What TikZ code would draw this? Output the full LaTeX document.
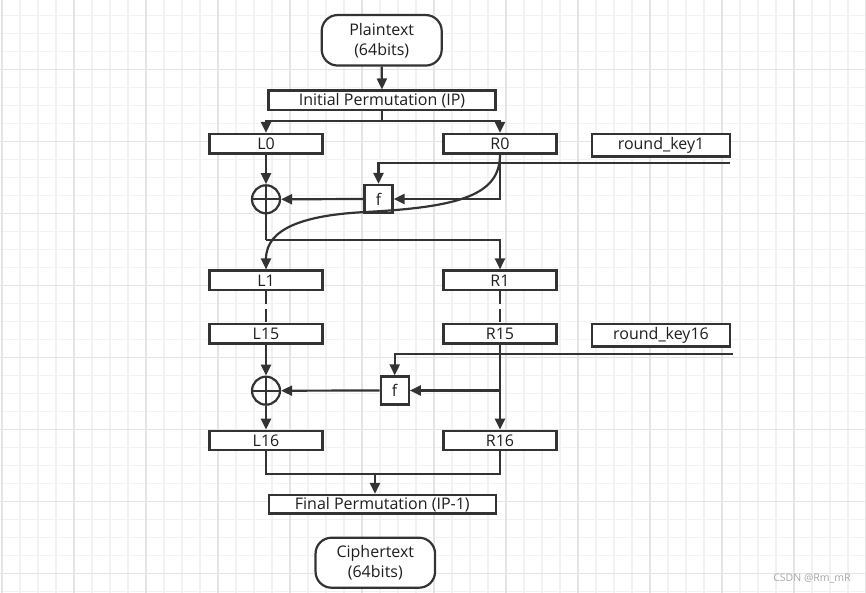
\documentclass[tikz,border=0pt]{standalone}
\usepackage{fontspec}
\setmainfont{Open Sans}
\usetikzlibrary{arrows.meta}
\definecolor{ink}{HTML}{333333}
\definecolor{txt}{HTML}{1E1E1E}
\definecolor{gminor}{HTML}{F2F2F2}
\definecolor{gmajor}{HTML}{E4E4E4}
\definecolor{wm}{HTML}{A6A6A6}
\tikzset{
  box/.style={draw=ink, line width=2.2pt, fill=white, inner sep=0pt, text=txt,
    font=\fontsize{16}{17}\selectfont},
  rbox/.style={box, rounded corners=16pt, align=center,
    font=\fontsize{16}{20}\selectfont},
  fbox/.style={box, minimum width=28pt, minimum height=28pt},
  xorc/.style={circle, draw=ink, line width=2.2pt, minimum size=28pt, inner sep=0pt,
    path picture={\draw[ink, line width=2.2pt]
      (path picture bounding box.north) -- (path picture bounding box.south)
      (path picture bounding box.west) -- (path picture bounding box.east);}},
  wire/.style={draw=ink, line width=2.2pt},
  arr/.style={wire, -{Triangle[length=11pt,width=10pt]}},
}
\begin{document}
\begin{tikzpicture}[x=1pt,y=-1pt]
\useasboundingbox (0,0) rectangle (866,593);
% grid
\foreach \i in {0,...,48} {\draw[gminor, line width=1.3pt] (2+18*\i,0) -- (2+18*\i,593);}
\foreach \j in {0,...,33} {\draw[gminor, line width=1.3pt] (0,-2.5+18*\j) -- (866,-2.5+18*\j);}
\foreach \i in {0,...,12} {\draw[gmajor, line width=1.3pt] (2+72*\i,0) -- (2+72*\i,593);}
\foreach \j in {0,...,9} {\draw[gmajor, line width=1.3pt] (0,-2.5+72*\j) -- (866,-2.5+72*\j);}

% nodes
\node[rbox, minimum width=120pt, minimum height=50.5pt] (plain) at (381.7,40.3) {Plaintext\\(64bits)};
\node[box, minimum width=227pt, minimum height=19.5pt] (ip) at (382,100.3) {Initial Permutation (IP)};
\node[box, minimum width=113pt, minimum height=19.5pt] (L0) at (266,143.7) {L0};
\node[box, minimum width=113pt, minimum height=19.5pt] (R0) at (500,143.7) {R0};
\node[box, minimum width=138.5pt, minimum height=22.5pt] (k1) at (661,145.3) {round\_key1};
\node[fbox] (f1) at (378.5,199) {f};
\node[xorc] (x1) at (266,199.3) {};
\node[box, minimum width=113pt, minimum height=19.5pt] (L1) at (266,280.3) {L1};
\node[box, minimum width=113pt, minimum height=19.5pt] (R1) at (500,280.3) {R1};
\node[box, minimum width=113pt, minimum height=19.5pt] (L15) at (266,333.7) {L15};
\node[box, minimum width=113pt, minimum height=19.5pt] (R15) at (500,333.7) {R15};
\node[box, minimum width=138.5pt, minimum height=22.5pt] (k16) at (661,335.3) {round\_key16};
\node[fbox] (f16) at (394.7,390.5) {f};
\node[xorc] (x16) at (266,390.7) {};
\node[box, minimum width=113pt, minimum height=19.5pt] (L16) at (266,440.5) {L16};
\node[box, minimum width=113pt, minimum height=19.5pt] (R16) at (500,440.5) {R16};
\node[box, minimum width=227pt, minimum height=18.5pt] (fp) at (382.3,504.2) {Final Permutation (IP-1)};
\node[rbox, minimum width=119.5pt, minimum height=50pt] (ciph) at (375.3,562.7) {Ciphertext\\(64bits)};
\node[text=wm, font=\fontsize{10.5}{12}\selectfont, inner sep=0pt] (wmk) at (812,579) {CSDN @Rm\_mR};

% connectors
\draw[arr] (plain.south) -- (ip.north);
\coordinate (ipj) at (382,121);
\draw[wire] (ip.south) -- (ipj);
\draw[arr] (ipj) -| (L0.north);
\draw[arr] (ipj) -| (R0.north);

\coordinate (key1) at (730,163);
\draw[arr] (key1) -| (f1.north);
\draw[arr] (R0.south) |- (f1.east);
\draw[arr] (f1.west) -- (x1.east);
\draw[arr] (L0.south) -- (x1.north);
\coordinate (j1) at (266,240);
\draw[wire] (x1.south) -- (j1);
\draw[arr] (j1) -| (R1.north);
\draw[arr] (R0.south) .. controls (500,195) and (460,207) .. (366,212)
  .. controls (305,215) and (266,228) .. (L1.north);

\draw[wire, dash pattern=on 13pt off 4.5pt] (L1.south) -- (L15.north);
\draw[wire, dash pattern=on 13pt off 4.5pt] (R1.south) -- (R15.north);

\coordinate (key16) at (733,354.3);
\draw[arr] (key16) -| (f16.north);
\draw[arr] (R15.south) -- (R16.north);
\coordinate (b16) at (500,390.5);
\draw[arr] (b16) -- (f16.east);
\draw[arr] (f16.west) -- (x16.east);
\draw[arr] (L15.south) -- (x16.north);
\draw[arr] (x16.south) -- (L16.north);

\coordinate (m) at (375,474);
\draw[wire] (L16.south) |- (m) -| (R16.south);
\draw[arr] (m) -- (m |- fp.north);
\end{tikzpicture}
\end{document}
